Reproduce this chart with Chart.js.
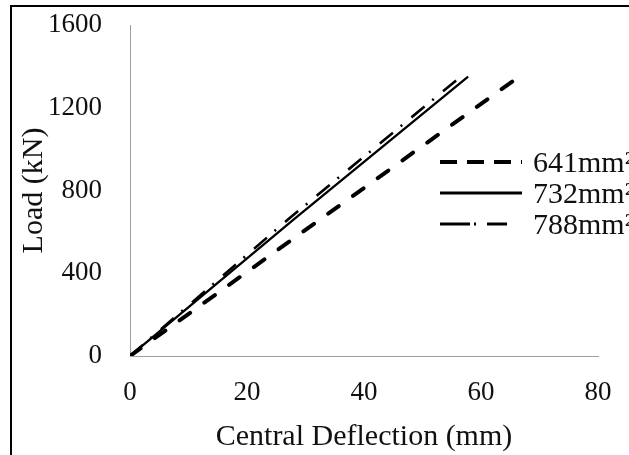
<!DOCTYPE html>
<html>
<head>
<meta charset="utf-8">
<script src="https://cdn.jsdelivr.net/npm/chart.js@4/dist/chart.umd.min.js"></script>
<style>
  html, body { margin: 0; padding: 0; background: #fff; overflow: hidden; }
  #wrap { position: relative; width: 629px; height: 455px; overflow: hidden; }
  #frame { position: absolute; left: 10px; top: 5px; width: 700px; height: 600px; border: 2px solid #000; box-sizing: border-box; pointer-events: none; }
  #legend { position: absolute; left: 440px; top: 146px; font-family: "Liberation Serif", "Times New Roman", serif; font-size: 30px; color: #111; white-space: nowrap; }
  .row { display: flex; align-items: center; height: 31px; }
  .row svg { margin-right: 11px; }
</style>
</head>
<body>
<div id="wrap">
  <canvas id="chart" width="629" height="455"></canvas>
  <div id="frame"></div>
  <div id="legend"></div>
</div>
<script>
// series: central deflection (mm) vs load (kN)
const labels = ["641mm²", "732mm²", "788mm²"];
const defl641 = [0, 32, 65.5];
const load641 = [0, 650, 1330];
const defl732 = [0, 28, 57.8];
const load732 = [0, 660, 1350];
const defl788 = [0, 27, 56.3];
const load788 = [0, 660, 1345];

const xTicks = [0, 20, 40, 60, 80];
const yTicks = [0, 400, 800, 1200, 1600];

const serif = "'Liberation Serif', 'Times New Roman', serif";

function pts(xs, ys) {
  return xs.map((x, i) => ({ x, y: ys[i] }));
}

const styles = [
  { width: 4, dash: [13, 17.5], cap: "round", legendWidth: 4, legendDash: "17 10" },
  { width: 2.3, dash: [], cap: "butt", legendWidth: 3, legendDash: "" },
  { width: 2.6, dash: [17, 10, 2, 12], cap: "butt", legendWidth: 3, legendDash: "30 4 2 11 20 100" }
];

const series = [pts(defl641, load641), pts(defl732, load732), pts(defl788, load788)];

const datasets = series.map((data, i) => ({
  label: labels[i],
  data,
  borderColor: "#000",
  borderWidth: styles[i].width,
  borderDash: styles[i].dash,
  borderCapStyle: styles[i].cap,
  pointRadius: 0,
  fill: false,
  tension: 0
}));

new Chart(document.getElementById("chart"), {
  type: "line",
  data: { datasets },
  options: {
    responsive: false,
    animation: false,
    devicePixelRatio: 1,
    layout: { padding: { top: 25, right: 31, left: 0, bottom: 0 } },
    plugins: { legend: { display: false }, tooltip: { enabled: false } },
    scales: {
      x: {
        type: "linear",
        min: 0,
        max: 80,
        afterBuildTicks: (s) => { s.ticks = xTicks.map(v => ({ value: v })); },
        afterFit: (s) => { s.height = 99; s.paddingLeft = 0; s.paddingRight = 0; },
        grid: { display: false, drawTicks: false },
        border: { display: true, color: "#a0a0a0", width: 1 },
        ticks: { color: "#111", font: { family: serif, size: 27 }, padding: 21, maxRotation: 0, callback: (v) => String(v) },
        title: { display: true, text: "Central Deflection (mm)", color: "#111", font: { family: serif, size: 30 }, padding: { top: 0, bottom: 0 } }
      },
      y: {
        type: "linear",
        min: 0,
        max: 1600,
        afterBuildTicks: (s) => { s.ticks = yTicks.map(v => ({ value: v })); },
        afterFit: (s) => { s.width = 130; s.paddingTop = 0; s.paddingBottom = 0; },
        grid: { display: false, drawTicks: false },
        border: { display: true, color: "#a0a0a0", width: 1 },
        ticks: { color: "#111", font: { family: serif, size: 27 }, padding: 28, callback: (v) => String(v) },
        title: { display: true, text: "Load (kN)", color: "#111", font: { family: serif, size: 30 }, padding: { top: 16, bottom: 0 } }
      }
    }
  }
});

// legend placed inside the plot, clipped by the right edge like the original
const legend = document.getElementById("legend");
labels.forEach((lab, i) => {
  const row = document.createElement("div");
  row.className = "row";
  const st = styles[i];
  row.innerHTML = `<svg width="82" height="10"><line x1="0" y1="5" x2="82" y2="5" stroke="#000" stroke-width="${st.legendWidth}" ${st.legendDash ? `stroke-dasharray="${st.legendDash}"` : ""}/></svg><span>${lab}</span>`;
  legend.appendChild(row);
});
</script>
</body>
</html>
